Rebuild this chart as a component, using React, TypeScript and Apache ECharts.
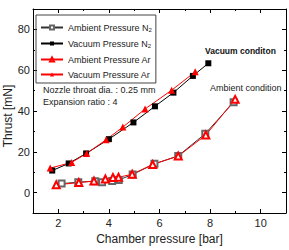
import React, { useEffect, useRef } from 'react';
import * as echarts from 'echarts';

const ambientN2Pressure = [2.13, 2.79, 3.46, 3.73, 4.13, 4.39, 4.94, 5.8, 6.74, 7.81, 8.93];
const ambientN2Thrust = [4.4, 5.1, 5.6, 5.1, 5.7, 6.2, 8.9, 14.1, 18.0, 28.9, 44.3];
const vacuumN2Pressure = [1.76, 2.41, 3.1, 4.0, 4.97, 5.82, 6.55, 7.32, 7.93];
const vacuumN2Thrust = [10.8, 14.3, 19.2, 26.2, 34.4, 42.3, 49.0, 57.2, 63.4];
const ambientArPressure = [1.92, 2.81, 3.41, 3.86, 4.16, 4.38, 4.92, 5.73, 6.74, 7.83, 8.99];
const ambientArThrust = [3.8, 4.9, 5.7, 6.7, 7.4, 7.5, 9.0, 13.8, 17.9, 28.2, 45.7];
const vacuumArPressure = [1.68, 2.53, 3.12, 3.89, 4.55, 5.43, 6.48, 7.41];
const vacuumArThrust = [12.0, 14.8, 19.2, 25.9, 32.1, 41.0, 50.2, 59.2];

const seriesNames = ['Ambient Pressure N2', 'Vacuum Pressure N2', 'Ambient Pressure Ar', 'Vacuum Pressure Ar'];
const xTitle = 'Chamber pressure [bar]';
const yTitle = 'Thrust [mN]';
const note1 = 'Nozzle throat dia. : 0.25 mm';
const note2 = 'Expansion ratio : 4';
const vacuumLabel = 'Vacuum conditon';
const ambientLabel = 'Ambient condition';

const FONT = '"Liberation Sans", Arial, sans-serif';

const zip = (xs: number[], ys: number[]) => xs.map((x, i) => [x, ys[i]]);

export default function App() {
  const ref = useRef<HTMLDivElement>(null);
  useEffect(() => {
    const chart = echarts.init(ref.current!, null, { renderer: 'svg' });
    const axisLine = { show: true, onZero: false, lineStyle: { color: '#000', width: 1 } };
    const majorTick = { show: true, inside: true, length: 4, lineStyle: { color: '#000', width: 1 } };
    const minorTick = { show: true, inside: true, length: 2, lineStyle: { color: '#000', width: 1 } };
    const noLine = { show: false, onZero: false };
    const xBase = { type: 'value', min: 1, max: 11, splitLine: { show: false } };
    const yBase = { type: 'value', min: -10, max: 90, splitLine: { show: false } };
    const option: any = {
      animation: false,
      backgroundColor: '#fff',
      grid: { left: 33, right: 3, top: 9, bottom: 37, containLabel: false, outerBoundsMode: 'none' },
      xAxis: [
        {
          ...xBase, position: 'bottom', axisLine, axisTick: majorTick,
          axisLabel: { showMinLabel: false, showMaxLabel: false, margin: 4, fontSize: 11, color: '#222', fontFamily: FONT },
          name: xTitle, nameLocation: 'middle', nameGap: 20,
          nameTextStyle: { fontSize: 12, color: '#222', fontFamily: FONT },
        },
        { ...xBase, interval: 2, position: 'bottom', axisLine: noLine, axisTick: minorTick, axisLabel: { show: false } },
        { ...xBase, position: 'top', axisLine, axisTick: majorTick, axisLabel: { show: false } },
        { ...xBase, interval: 2, position: 'top', axisLine: noLine, axisTick: minorTick, axisLabel: { show: false } },
      ],
      yAxis: [
        {
          ...yBase, position: 'left', axisLine, axisTick: majorTick,
          axisLabel: { showMinLabel: false, showMaxLabel: false, margin: 3, fontSize: 11, color: '#222', fontFamily: FONT },
        },
        { ...yBase, interval: 20, position: 'left', axisLine: noLine, axisTick: minorTick, axisLabel: { show: false } },
        { ...yBase, position: 'right', axisLine, axisTick: majorTick, axisLabel: { show: false } },
        { ...yBase, interval: 20, position: 'right', axisLine: noLine, axisTick: minorTick, axisLabel: { show: false } },
      ],
      legend: {
        orient: 'vertical', left: 36, top: 15,
        itemWidth: 22, itemHeight: 5, itemGap: 6,
        padding: [8, 4, 4, 4],
        borderColor: '#444', borderWidth: 1,
        data: seriesNames,
        formatter: (n: string) => n.replace(/N2$/, 'N{sub|2}'),
        textStyle: {
          fontSize: 9, color: '#222', fontFamily: FONT,
          rich: { sub: { fontSize: 6, fontFamily: FONT, color: '#222', padding: [5, 0, 0, 0] } },
        },
      },
      series: [
        {
          name: seriesNames[0], type: 'line', data: zip(ambientN2Pressure, ambientN2Thrust),
          symbol: 'emptyRect', symbolSize: 6,
          lineStyle: { color: '#333', width: 1 }, itemStyle: { color: '#666', borderColor: '#666', borderWidth: 1 },
        },
        {
          name: seriesNames[1], type: 'line', data: zip(vacuumN2Pressure, vacuumN2Thrust),
          symbol: 'rect', symbolSize: 6,
          lineStyle: { color: '#000', width: 1 }, itemStyle: { color: '#000' },
        },
        {
          name: seriesNames[2], type: 'line', data: zip(ambientArPressure, ambientArThrust),
          symbol: 'emptyTriangle', symbolSize: 7,
          lineStyle: { color: '#f00', width: 1 }, itemStyle: { color: '#f00', borderColor: '#f00', borderWidth: 1 },
        },
        {
          name: seriesNames[3], type: 'line', data: zip(vacuumArPressure, vacuumArThrust),
          symbol: 'triangle', symbolSize: 7,
          lineStyle: { color: '#f00', width: 1 }, itemStyle: { color: '#f00' },
        },
      ],
      graphic: [
        { type: 'text', x: 8, y: 116, rotation: Math.PI / 2, style: { text: yTitle, fontSize: 12, fontFamily: FONT, fill: '#222', align: 'center', verticalAlign: 'middle' } },
        { type: 'text', x: 43, y: 90, style: { text: note1, fontSize: 9, fontFamily: FONT, fill: '#222', verticalAlign: 'middle' } },
        { type: 'text', x: 43, y: 102, style: { text: note2, fontSize: 9, fontFamily: FONT, fill: '#222', verticalAlign: 'middle' } },
        { type: 'text', x: 205, y: 51, style: { text: vacuumLabel, fontSize: 8.5, fontWeight: 'bold', fontFamily: FONT, fill: '#111', verticalAlign: 'middle' } },
        { type: 'text', x: 210, y: 88, style: { text: ambientLabel, fontSize: 9, fontFamily: FONT, fill: '#222', verticalAlign: 'middle' } },
      ],
    };
    chart.setOption(option);
    return () => chart.dispose();
  }, []);
  return <div ref={ref} style={{ position: 'absolute', left: 0, top: 0, width: 289, height: 250 }} />;
}
